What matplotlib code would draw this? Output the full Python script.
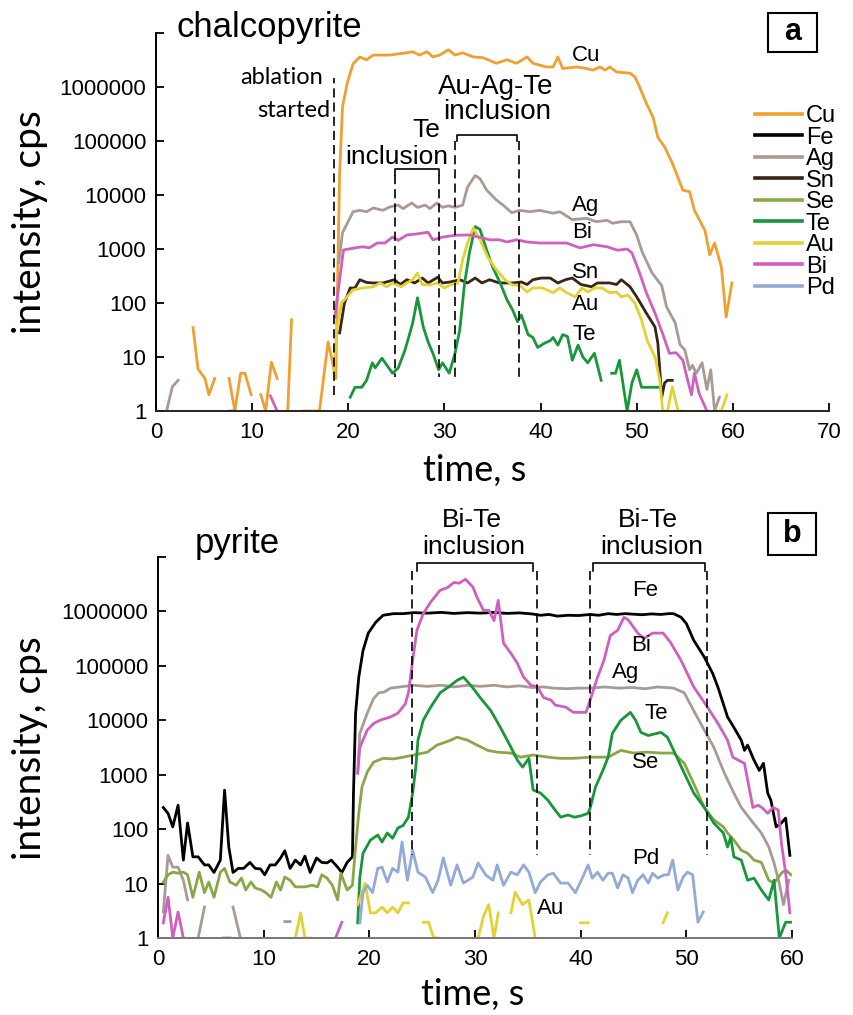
import matplotlib
matplotlib.use("Agg")
import numpy as np
import matplotlib.pyplot as plt
from matplotlib.lines import Line2D
from matplotlib.patches import Rectangle

nan = np.nan

# ---------------- Panel a: chalcopyrite (time s, intensity cps) ----------------
A_CU_T = [3.85, 4.37, 5.1, 5.5, 6.1, nan, 7.6, 8.2, 8.8, 9.25, 9.9, nan, 10.9, 11.4, 12.0, 12.6, nan,
          13.7, 14.1, nan, 15.3, 17.0, 17.9, 18.3, 18.7, 19.1, 19.4, 19.9, 20.5, 21.2, 21.9, 22.6, 23.6,
          24.3, 25.2, 26.1, 26.7, 27.4, 28.2, 28.8, 29.5, 30.4, 31.1, 31.9, 33.0, 34.0, 35.4, 36.5, 37.5,
          38.6, 39.2, 40.6, 41.3, 41.8, 42.3, 43.8, 44.8, 45.4, 46.2, 46.7, 47.2, 47.9, 49.3, 49.8, 50.3,
          51.0, 51.7, 52.2, 52.9, 53.7, 54.8, 55.5, 56.0, 57.1, 57.6, 58.1, 58.8, 59.3, 59.9]
A_CU_V = [35, 6, 4, 2, 4, nan, 4, 1, 5, 5, 2, nan, 2, 1, 8, 4, nan, 1, 49, nan, 1, 1, 19, 9, 4,
          2.5e4, 4.3e5, 1.2e6, 2.7e6, 3.6e6, 3.2e6, 3.9e6, 3.9e6, 3.9e6, 4.1e6, 4.3e6, 4.5e6, 3.9e6,
          4.5e6, 3.6e6, 3.9e6, 4.9e6, 3.9e6, 4.3e6, 3.6e6, 3.5e6, 2.75e6, 3.2e6, 2.75e6, 3.6e6, 2.75e6,
          2.35e6, 2.35e6, 3.6e6, 2.2e6, 2.35e6, 2.2e6, 2.05e6, 2.35e6, 2.05e6, 2.35e6, 1.9e6, 1.8e6,
          1.55e6, 1.0e6, 5.0e5, 2.75e5, 1.17e5, 7.8e4, 3.9e4, 1.23e4, 1.15e4, 5.2e3, 2.2e3, 780, 1290,
          470, 55, 235]

A_AG_T = [1.1, 1.7, 2.3, nan, 19.0, 19.4, 19.9, 20.5, 21.2, 21.9, 22.6, 23.6, 24.3, 25.2, 25.7, 26.6,
          27.2, 28.0, 28.5, 29.2, 29.8, 30.4, 31.1, 31.9, 32.4, 33.2, 33.7, 34.4, 35.4, 36.1, 37.0, 37.8,
          38.9, 39.9, 41.3, 42.0, 43.3, 44.8, 45.8, 46.9, 47.5, 48.4, 49.3, 50.0, 50.6, 51.6, 52.6, 53.1,
          54.0, 54.5, 55.0, 55.5, 55.8, 56.2, 56.8, 57.3, 57.7, 58.1, 58.6]
A_AG_V = [1, 2.8, 3.7, nan, 550, 2000, 3000, 4900, 5200, 4900, 5750, 5200, 6000, 6500, 5600, 7100,
          5900, 6500, 5600, 7100, 5900, 6300, 5900, 6500, 14000, 23000, 20000, 12300, 8100, 6500, 4700,
          5200, 4900, 5200, 4600, 4900, 3500, 3700, 3200, 3400, 3000, 3200, 3200, 1800, 850, 360, 210,
          85, 43, 17, 13.5, 5.8, 7, 5, 7.8, 2.5, 5.8, 1, 1.8]

A_BI_T = [7.7, 8.2, nan, 11.9, 12.6, nan, 18.6, 19.5, 20.7, 21.5, 22.2, 23.0, 23.8, 24.6, 25.2, 26.1,
          27.1, 28.3, 28.8, 29.8, 31.2, 32.6, 33.6, 34.7, 35.7, 36.5, 37.5, 38.6, 39.9, 41.3, 42.7, 44.1,
          45.5, 46.9, 48.0, 49.0, 49.5, 50.3, 51.0, 51.9, 52.7, 53.4, 54.1, 54.8, 55.3, 55.7, 56.0, 56.5,
          57.3]
A_BI_V = [1, 1, nan, 1.9, 1, nan, 55, 960, 1050, 1100, 1050, 1290, 1290, 1660, 1450, 1820, 1900, 2040,
          1480, 1660, 1800, 1820, 1660, 1480, 1480, 1350, 1480, 1350, 1290, 1290, 1290, 1050, 1200,
          1100, 950, 1000, 850, 360, 155, 65, 27, 11.7, 12, 8.7, 3.7, 2.0, 5, 2.1, 1]

A_SN_T = [19.1, 19.6, 20.2, 20.7, 21.2, 21.9, 22.6, 23.6, 24.8, 25.4, 26.1, 26.9, 27.7, 28.3, 29.3,
          29.8, 30.6, 31.6, 32.4, 33.2, 33.9, 34.7, 35.7, 37.1, 38.0, 38.6, 39.2, 40.1, 41.0, 41.8, 42.6,
          43.3, 44.2, 45.3, 45.9, 47.2, 47.9, 48.4, 49.3, 50.0, 51.0, 51.9, 52.2, 52.6, 52.9, 53.2, 53.7]
A_SN_V = [28, 100, 190, 190, 270, 240, 235, 235, 270, 220, 270, 235, 290, 235, 300, 235, 245, 270, 235,
          290, 235, 270, 235, 235, 245, 220, 270, 290, 290, 235, 270, 290, 220, 200, 235, 235, 220, 270,
          200, 130, 65, 36, 18, 1.8, 3.3, 3.7, 3.7]

A_AU_T = [18.5, 18.8, 19.3, 20.5, 21.5, 22.6, 23.3, 24.0, 24.6, 25.5, 26.1, 26.7, 27.2, 27.7, 28.5,
          29.3, 30.0, 30.7, 31.4, 31.9, 32.4, 33.0, 33.7, 34.5, 35.4, 36.3, 37.1, 37.8, 38.6, 39.2, 40.2,
          41.3, 42.0, 42.7, 43.6, 44.3, 44.9, 45.6, 46.4, 47.2, 47.9, 48.4, 49.1, 49.8, 50.5, 51.1, 51.9,
          52.4, 52.7, 53.2, 53.7, 54.3, 54.8, nan, 58.3, 58.8, 59.4]
A_AU_V = [5, 32, 100, 175, 190, 200, 235, 200, 235, 200, 235, 270, 360, 220, 215, 235, 190, 220, 235,
          630, 1290, 2450, 1480, 710, 410, 270, 215, 215, 160, 190, 190, 155, 190, 155, 130, 190, 160,
          190, 190, 155, 160, 130, 140, 100, 49, 20, 10, 3.7, 1, 1, 2.8, 1, 1, nan, 1, 1, 2]

A_TE_T = [20.2, 20.7, 21.4, 21.9, 22.5, 22.8, 23.5, 24.0, 24.6, 25.2, 25.9, 26.4, 26.7, 27.2, 27.8,
          28.3, 28.8, 29.4, 29.8, 30.5, 31.1, 31.6, 32.1, 32.6, 33.2, 33.7, 34.4, 35.0, 35.8, 36.5, 37.1,
          37.6, 38.0, 38.7, 39.2, 39.7, 40.4, 41.0, 41.3, 41.8, 42.3, 42.8, 43.3, 43.9, 44.4, 44.9, 45.6,
          46.3, nan, 47.4, 47.8, 48.2, 49.0, 49.5, 50.0, 50.5, 52.2]
A_TE_V = [1.8, 2.75, 2.75, 3.7, 7.8, 6.3, 9.5, 7.1, 5, 6.3, 13.5, 27.5, 43, 125, 36, 19, 11.7, 5.8,
          7.8, 5, 11.7, 32, 235, 850, 2600, 2300, 950, 470, 235, 115, 74, 45, 60, 26, 23, 15, 18, 20, 23,
          16.6, 26, 24, 8.7, 16.6, 10, 7.8, 11.7, 3.7, nan, 5, 5, 8.7, 1, 3.3, 5.8, 2.75, 2.75]

# ---------------- Panel b: pyrite ----------------
B_FE_T = [0.5, 0.95, 1.4, 1.9, 2.4, 2.8, 3.3, 3.8, 4.4, 4.8, 5.3, 5.9, 6.3, 6.7, 7.1, 7.6, 8.1, 8.7,
          9.2, 9.7, 10.1, 10.6, 11.1, 11.6, 12.0, 12.5, 13.0, 13.5, 13.9, 14.4, 15.0, 15.5, 16.0, 16.4,
          17.0, 17.4, 17.9, 18.4, 18.5, 18.7, 19.0, 19.4, 19.9, 20.6, 21.3, 22.3, 23.2, 24.2, 25.5, 26.8,
          28.0, 29.3, 30.5, 31.8, 33.0, 34.2, 35.4, 36.2, 37.0, 37.8, 38.8, 39.8, 40.9, 41.7, 42.6, 43.4,
          44.2, 45.0, 45.8, 46.7, 47.6, 48.3, 48.8, 49.5, 50.0, 50.7, 51.7, 52.5, 53.0, 53.9, 54.5, 55.2,
          55.5, 55.8, 56.4, 56.9, 57.3, 57.7, 58.0, 58.5, 59.0, 59.4, 59.8]
B_FE_V = [250, 195, 110, 275, 27, 130, 31, 31, 22, 22, 16, 27, 520, 47, 16, 19, 19, 24.5, 19, 18.6,
          14.5, 22, 22, 29.5, 40, 19, 27, 22, 32, 16, 29.5, 24.5, 24, 27, 20, 16, 24.5, 31, 460, 1.35e4,
          6.2e4, 1.9e5, 4.0e5, 6.3e5, 8.5e5, 9.1e5, 9.1e5, 9.5e5, 9.3e5, 9.6e5, 9.2e5, 9.5e5, 9.3e5,
          9.6e5, 9.2e5, 9.4e5, 9.0e5, 8.5e5, 8.8e5, 8.2e5, 8.5e5, 8.4e5, 8.8e5, 8.5e5, 9.1e5, 8.8e5,
          9.1e5, 8.9e5, 8.7e5, 9.0e5, 8.8e5, 9.1e5, 9.1e5, 7.8e5, 6.0e5, 2.95e5, 1.45e5, 7.2e4, 4.0e4,
          1.15e4, 7.4e3, 4.3e3, 2.8e3, 3.5e3, 1.86e3, 1.2e3, 1.62e3, 460, 340, 110, 130, 160, 33]

B_BI_T = [0.5, 0.95, 1.4, 1.9, 2.4, nan, 6.2, 6.8, nan, 16.8, 17.4, nan, 18.9, 19.1, 19.8, 20.4, 21.0,
          22.0, 22.7, 23.4, 23.7, 24.1, 24.5, 25.1, 25.8, 26.7, 27.4, 28.0, 28.5, 29.1, 29.8, 30.2, 30.8,
          31.3, 31.8, 32.2, 32.7, 33.4, 34.0, 34.6, 35.3, 35.9, 36.5, 37.2, 37.6, 38.6, 39.3, 40.5, 40.9,
          41.6, 42.2, 42.8, 43.5, 44.1, 44.5, 45.4, 46.0, 46.8, 47.8, 48.5, 49.5, 50.7, 52.0, 53.0, 53.9,
          54.4, 54.9, 55.5, 55.8, 56.3, 56.8, 57.2, 57.7, 58.2, 58.7, 59.0, 59.4, 59.8]
B_BI_V = [1.9, 5.6, 1, 3, 1, nan, 1, 1, nan, 1, 1.95, nan, 1070, 3160, 6600, 8700, 1.0e4, 1.15e4,
          1.35e4, 2.0e4, 3.2e4, 1.26e5, 4.5e5, 9.1e5, 1.48e6, 2.45e6, 2.75e6, 3.4e6, 3.3e6, 3.9e6, 2.8e6,
          1.8e6, 1.05e6, 1.05e6, 6.8e5, 1.6e6, 2.6e5, 1.7e5, 1.12e5, 6.2e4, 4.4e4, 4.1e4, 2.6e4, 2.35e4,
          1.9e4, 1.74e4, 1.4e4, 1.4e4, 2.35e4, 6.2e4, 1.26e5, 3.6e5, 4.5e5, 7.8e5, 7.0e5, 4.0e5, 3.2e5,
          4.0e5, 4.0e5, 2.7e5, 1.26e5, 4.1e4, 1.74e4, 8.7e3, 4.3e3, 2.1e3, 1.86e3, 1.62e3, 800, 250, 275,
          245, 195, 250, 225, 55, 15.5, 2.9]

B_AG_T = [0.5, 0.95, 1.4, 1.9, 2.4, 2.8, nan, 3.8, 4.4, nan, 7.1, 7.8, nan, 12.0, 12.5, nan, 18.9,
          19.1, 19.8, 20.4, 20.9, 21.4, 22.0, 22.9, 24.2, 25.5, 26.8, 28.0, 29.3, 30.5, 31.8, 33.0, 34.2,
          35.4, 36.5, 37.4, 38.6, 39.8, 40.9, 42.3, 43.6, 44.9, 46.1, 47.3, 48.8, 49.8, 50.7, 51.7, 52.6,
          53.6, 54.5, 55.2, 56.1, 57.1, 57.8, 58.3, 58.8, 59.2, 59.7]
B_AG_V = [3, 33, 20, 20, 11.5, 5, nan, 1, 3.7, nan, 3.7, 1, nan, 2, 2, nan, 1070, 5750, 1.35e4, 2.5e4,
          3.2e4, 3.3e4, 3.9e4, 4.1e4, 4.4e4, 4.2e4, 4.4e4, 4.1e4, 4.4e4, 4.2e4, 4.4e4, 4.1e4, 4.3e4,
          4.0e4, 4.1e4, 3.9e4, 3.8e4, 3.9e4, 3.9e4, 4.1e4, 3.9e4, 4.0e4, 3.8e4, 4.1e4, 3.9e4, 3.2e4,
          1.5e4, 6.6e3, 3.2e3, 1.07e3, 460, 250, 148, 85, 47, 24, 10, 4.1, 11.5]

B_TE_T = [18.9, 19.1, 19.4, 20.1, 20.8, 21.2, 21.7, 22.2, 22.7, 23.2, 23.7, 24.1, 24.4, 24.6, 25.1,
          25.8, 26.7, 27.5, 28.3, 28.9, 29.6, 30.5, 31.5, 32.4, 33.4, 34.0, 34.5, 35.1, 35.5, 36.2, 36.9,
          37.4, 38.1, 38.8, 39.4, 40.0, 40.7, 40.9, 41.4, 42.1, 42.6, 43.0, 43.8, 44.7, 45.2, 45.7, 46.4,
          47.6, 48.2, 48.8, 49.8, 50.7, 51.7, 52.6, 53.5, 53.9, 54.2, 54.5, 55.2, 55.8, 56.4, 57.1, 57.8,
          58.3, 58.8, 59.4, 59.9]
B_TE_V = [1.9, 13, 36, 63, 78, 58, 85, 68, 105, 117, 166, 460, 1380, 4300, 1.0e4, 1.74e4, 3.2e4,
          4.1e4, 5.4e4, 6.2e4, 4.4e4, 2.6e4, 1.5e4, 7.4e3, 3.2e3, 1.86e3, 1.38e3, 2.0e3, 525, 460, 340,
          250, 166, 182, 166, 175, 195, 245, 590, 1.2e3, 2.1e3, 5.75e3, 1.0e4, 1.4e4, 1.0e4, 6.0e3,
          5.25e3, 6.0e3, 4.9e3, 2.8e3, 1.07e3, 460, 250, 129, 85, 47, 71, 31, 27, 11.5, 12.6, 7.6, 5,
          11.5, 1, 1.95, 1.95]

B_SE_T = [0.5, 0.95, 1.4, 1.9, 2.4, 2.8, 3.3, 3.9, 4.4, 4.8, 5.3, 5.9, 6.3, 6.8, 7.4, 7.9, 8.3, 8.8,
          9.2, 9.8, 10.2, 10.7, 11.2, 11.6, 12.0, 12.5, 13.0, 13.9, 14.6, 15.1, 15.5, 16.0, 16.5, 17.0,
          17.3, 17.9, 18.4, 18.7, 19.0, 19.3, 19.8, 20.4, 21.3, 22.3, 23.2, 24.2, 25.5, 26.4, 27.7, 28.3,
          29.3, 30.2, 31.2, 32.1, 33.4, 34.3, 35.5, 36.9, 38.0, 39.3, 40.9, 42.6, 43.8, 45.0, 46.3, 47.6,
          48.8, 49.8, 50.7, 51.7, 52.6, 53.5, 53.9, 54.5, 55.2, 55.8, 56.4, 57.1, 57.8, 58.3, 59.0, 59.4,
          59.9]
B_SE_V = [10.7, 14.5, 16.2, 15.5, 16.2, 14.5, 5.6, 16.2, 6.8, 10.7, 5.6, 16.2, 19, 10.7, 9.3, 12.6,
          7.6, 10.7, 8.3, 7.6, 6.8, 5.6, 10.7, 7.6, 13.2, 11.5, 8.7, 8.7, 9.3, 8.7, 14.5, 12.6, 9.3, 5,
          15.5, 7.6, 9.3, 47, 195, 590, 1.12e3, 1.7e3, 2.0e3, 1.95e3, 2.1e3, 2.3e3, 2.6e3, 3.5e3, 4.3e3,
          4.9e3, 4.3e3, 3.5e3, 2.8e3, 2.6e3, 2.5e3, 2.1e3, 2.3e3, 2.1e3, 2.0e3, 2.0e3, 2.1e3, 2.1e3,
          2.8e3, 2.5e3, 2.6e3, 2.5e3, 2.5e3, 1.62e3, 690, 250, 148, 110, 85, 63, 41, 36, 27, 24.5, 11.5,
          10.2, 15.5, 17.8, 14.5]

B_PD_T = [19.1, 19.4, 19.8, 20.3, 20.8, 21.2, 21.7, 22.2, 22.7, 23.1, 23.6, 24.1, 24.6, 25.3, 26.0,
          26.5, 27.0, 27.7, 28.3, 28.9, 29.8, 30.3, 31.0, 31.7, 32.1, 32.7, 33.4, 34.0, 34.6, 35.1, 35.7,
          36.2, 36.9, 37.4, 38.1, 38.8, 39.5, 40.2, 40.7, 41.1, 41.6, 42.1, 42.6, 43.0, 43.5, 44.0, 44.5,
          44.9, 45.4, 45.9, 46.4, 46.8, 47.3, 47.9, 48.3, 48.7, 49.2, 49.7, 50.1, 50.6, 51.1, 51.6]
B_PD_V = [1.9, 6.8, 9.3, 6.8, 19, 20, 10.7, 19, 16.2, 58, 11.5, 41, 16.2, 13.2, 6.8, 11.5, 29.5, 9.3,
          22, 10.2, 13.2, 24, 14.5, 11.5, 22, 9.3, 16.2, 14.5, 22, 16.2, 6.8, 10.7, 14.5, 15.5, 10.2,
          10.2, 6.8, 13.2, 22, 12.6, 16.2, 11.5, 15.5, 15.5, 8.3, 14.5, 12.6, 6.8, 11.5, 14.5, 10.2,
          15.5, 12.6, 14.5, 14.5, 27, 7.6, 13.2, 16.2, 14.5, 1.95, 3]

B_AU_T = [13.0, 13.5, 13.9, 14.4, nan, 18.9, 19.6, 20.1, 20.6, 21.2, 21.7, 22.2, 22.7, 23.2, 23.7, nan,
          25.1, 25.6, 26.1, 26.5, nan, 30.3, 30.8, 31.3, 31.8, 32.2, nan, 33.4, 33.8, 34.5, 35.1, 35.7,
          nan, 40.0, 40.7, nan, 47.8, 48.2]
B_AU_V = [1, 2.9, 1, 1, nan, 4.1, 10.2, 2.9, 2.9, 3.7, 2.9, 3.7, 2.9, 4.4, 4.4, nan, 1.95, 1.95, 1, 1,
          nan, 1, 2.5, 4.1, 1, 2.9, nan, 2.9, 6.9, 4.1, 5, 1, nan, 1.9, 1.9, nan, 1.9, 2.9]

ELEMENTS = ["Cu", "Fe", "Ag", "Sn", "Se", "Te", "Au", "Bi", "Pd"]
COLORS = {"Cu": "#F0A030", "Fe": "#000000", "Ag": "#A89A94", "Sn": "#3A2414", "Se": "#88A848",
          "Te": "#17963A", "Au": "#E2D234", "Bi": "#D060C0", "Pd": "#94AAD6"}

SANS = ["Liberation Sans", "DejaVu Sans"]
HUM = ["Lato", "DejaVu Sans"]
LW = 2.0

W, H = 854, 1015
fig = plt.figure(figsize=(W / 100, H / 100), dpi=100)


def fx(px):
    return px / W


def fy(py):
    return 1 - py / H


ax_a = fig.add_axes([fx(156), fy(411), fx(829) - fx(156), fy(33) - fy(411)])
ax_b = fig.add_axes([fx(158), fy(938), fx(792) - fx(158), fy(557) - fy(938)])

YT = [1, 10, 100, 1000, 10000, 100000, 1000000, 10000000]
YL = ["1", "10", "100", "1000", "10000", "100000", "1000000", ""]


def style(ax, xmax, bottom_color):
    ax.set_yscale("log")
    ax.set_ylim(1, 1e7)
    ax.set_xlim(0, xmax)
    ax.set_yticks(YT)
    ax.set_yticklabels(YL)
    ax.minorticks_off()
    ax.set_xticks(np.arange(0, xmax + 1, 10))
    for s in ["top", "right"]:
        ax.spines[s].set_visible(False)
    ax.spines["left"].set_linewidth(1.4)
    ax.spines["bottom"].set_linewidth(1.4)
    ax.spines["bottom"].set_color(bottom_color)
    ax.tick_params(axis="both", direction="in", length=6, width=1.3, labelsize=16, pad=7)
    ax.tick_params(axis="x", pad=8)
    for lab in ax.get_xticklabels() + ax.get_yticklabels():
        lab.set_fontfamily(SANS)


style(ax_a, 70, "#222222")
style(ax_b, 60, "#777777")

# ---- panel a lines
series_a = [("Cu", A_CU_T, A_CU_V), ("Ag", A_AG_T, A_AG_V), ("Sn", A_SN_T, A_SN_V),
            ("Te", A_TE_T, A_TE_V), ("Au", A_AU_T, A_AU_V), ("Bi", A_BI_T, A_BI_V)]
for el, t, v in series_a:
    ax_a.plot(t, v, color=COLORS[el], lw=LW)

series_b = [("Fe", B_FE_T, B_FE_V), ("Ag", B_AG_T, B_AG_V), ("Se", B_SE_T, B_SE_V),
            ("Te", B_TE_T, B_TE_V), ("Au", B_AU_T, B_AU_V), ("Bi", B_BI_T, B_BI_V),
            ("Pd", B_PD_T, B_PD_V)]
for el, t, v in series_b:
    ax_b.plot(t, v, color=COLORS[el], lw=LW)

# ---- element labels
lab_a = [("Cu", 43.3, 3.9e6), ("Ag", 43.3, 6500), ("Bi", 43.3, 2050), ("Sn", 43.3, 375),
         ("Au", 43.3, 92), ("Te", 43.3, 26)]
for s, x, y in lab_a:
    ax_a.text(x, y, s, fontsize=16, family=SANS, ha="left", va="center")
lab_b = [("Fe", 44.9, 2.4e6), ("Bi", 44.8, 2.4e5), ("Ag", 43.0, 7.6e4), ("Te", 46.0, 1.35e4),
         ("Se", 44.9, 1700), ("Pd", 44.9, 29), ("Au", 35.9, 3.5)]
for s, x, y in lab_b:
    ax_b.text(x, y, s, fontsize=16, family=SANS, ha="left", va="center")

DASH = (0, (5.5, 3))


def bracket(ax, x1, x2, ytop, ysolid, ybot, dx1=None, dx2=None):
    dx1 = x1 if dx1 is None else dx1
    dx2 = x2 if dx2 is None else dx2
    ax.plot([x1, x1, x2, x2], [ysolid, ytop, ytop, ysolid], color="black", lw=1.2, clip_on=False)
    for d in (dx1, dx2):
        ax.plot([d, d], [ysolid, ybot], color="black", lw=1.2, linestyle=DASH, clip_on=False)


# panel a annotations
ax_a.plot([18.5, 18.5], [2, 1.47e6], color="black", lw=1.2, linestyle=DASH)
ax_a.text(17.4, 1.47e6, "ablation", fontsize=17, family=HUM, ha="right", va="center")
ax_a.text(18.1, 3.7e5, "started", fontsize=17, family=HUM, ha="right", va="center")
bracket(ax_a, 24.85, 29.45, 3.0e4, 2.3e4, 4.3)
ax_a.text(28.1, 1.6e5, "Te", fontsize=19, family=SANS, ha="center", va="center")
ax_a.text(25.05, 5.0e4, "inclusion", fontsize=19, family=SANS, ha="center", va="center")
bracket(ax_a, 31.3, 37.5, 1.29e5, 1.0e5, 4.3, 31.15, 37.8)
ax_a.text(35.3, 1.0e6, "Au-Ag-Te", fontsize=20, family=SANS, ha="center", va="center")
ax_a.text(35.45, 3.5e5, "inclusion", fontsize=20, family=SANS, ha="center", va="center")

# panel b annotations
bracket(ax_b, 24.5, 35.5, 7.6e6, 5.6e6, 33, 24.0, 35.9)
bracket(ax_b, 41.2, 51.75, 7.6e6, 5.6e6, 33, 40.9, 52.0)
ax_b.text(29.7, 4.7e7, "Bi-Te", fontsize=19, family=SANS, ha="center", va="center")
ax_b.text(29.9, 1.5e7, "inclusion", fontsize=19, family=SANS, ha="center", va="center")
ax_b.text(46.4, 4.7e7, "Bi-Te", fontsize=19, family=SANS, ha="center", va="center")
ax_b.text(46.7, 1.5e7, "inclusion", fontsize=19, family=SANS, ha="center", va="center")

# legend (panel a)
handles = [Line2D([], [], color=COLORS[e], lw=2.6) for e in ELEMENTS]
leg = ax_a.legend(handles, ELEMENTS, loc="upper left", bbox_to_anchor=(fx(755), fy(105)),
                  bbox_transform=fig.transFigure, frameon=False, prop={"family": SANS, "size": 17},
                  handlelength=2.0, handletextpad=0.15, labelspacing=-0.02, borderpad=0,
                  borderaxespad=0)

# titles
fig.text(fx(177), fy(37), "chalcopyrite", fontsize=25, family=SANS, ha="left", va="baseline")
fig.text(fx(195), fy(553), "pyrite", fontsize=25, family=SANS, ha="left", va="baseline")

# axis labels
fig.text(fx(475), fy(470), "time, s", fontsize=26, family=HUM, ha="center", va="center")
fig.text(fx(473), fy(995), "time, s", fontsize=26, family=HUM, ha="center", va="center")
fig.text(fx(30), fy(222), "intensity, cps", fontsize=28, family=HUM, ha="center", va="center",
         rotation=90)
fig.text(fx(30), fy(748), "intensity, cps", fontsize=28, family=HUM, ha="center", va="center",
         rotation=90)

# panel letters
for (x0, y0, x1, y1, s) in [(768, 13, 817, 52, "a"), (768, 513, 816, 555, "b")]:
    fig.add_artist(Rectangle((fx(x0), fy(y1)), fx(x1) - fx(x0), fy(y0) - fy(y1),
                             transform=fig.transFigure, fill=False, lw=1.5, ec="black"))
    fig.text(fx((x0 + x1) / 2), fy((y0 + y1) / 2), s, fontsize=22, fontweight="bold",
             family=SANS, ha="center", va="center")

fig.savefig("out.png", dpi=100)
